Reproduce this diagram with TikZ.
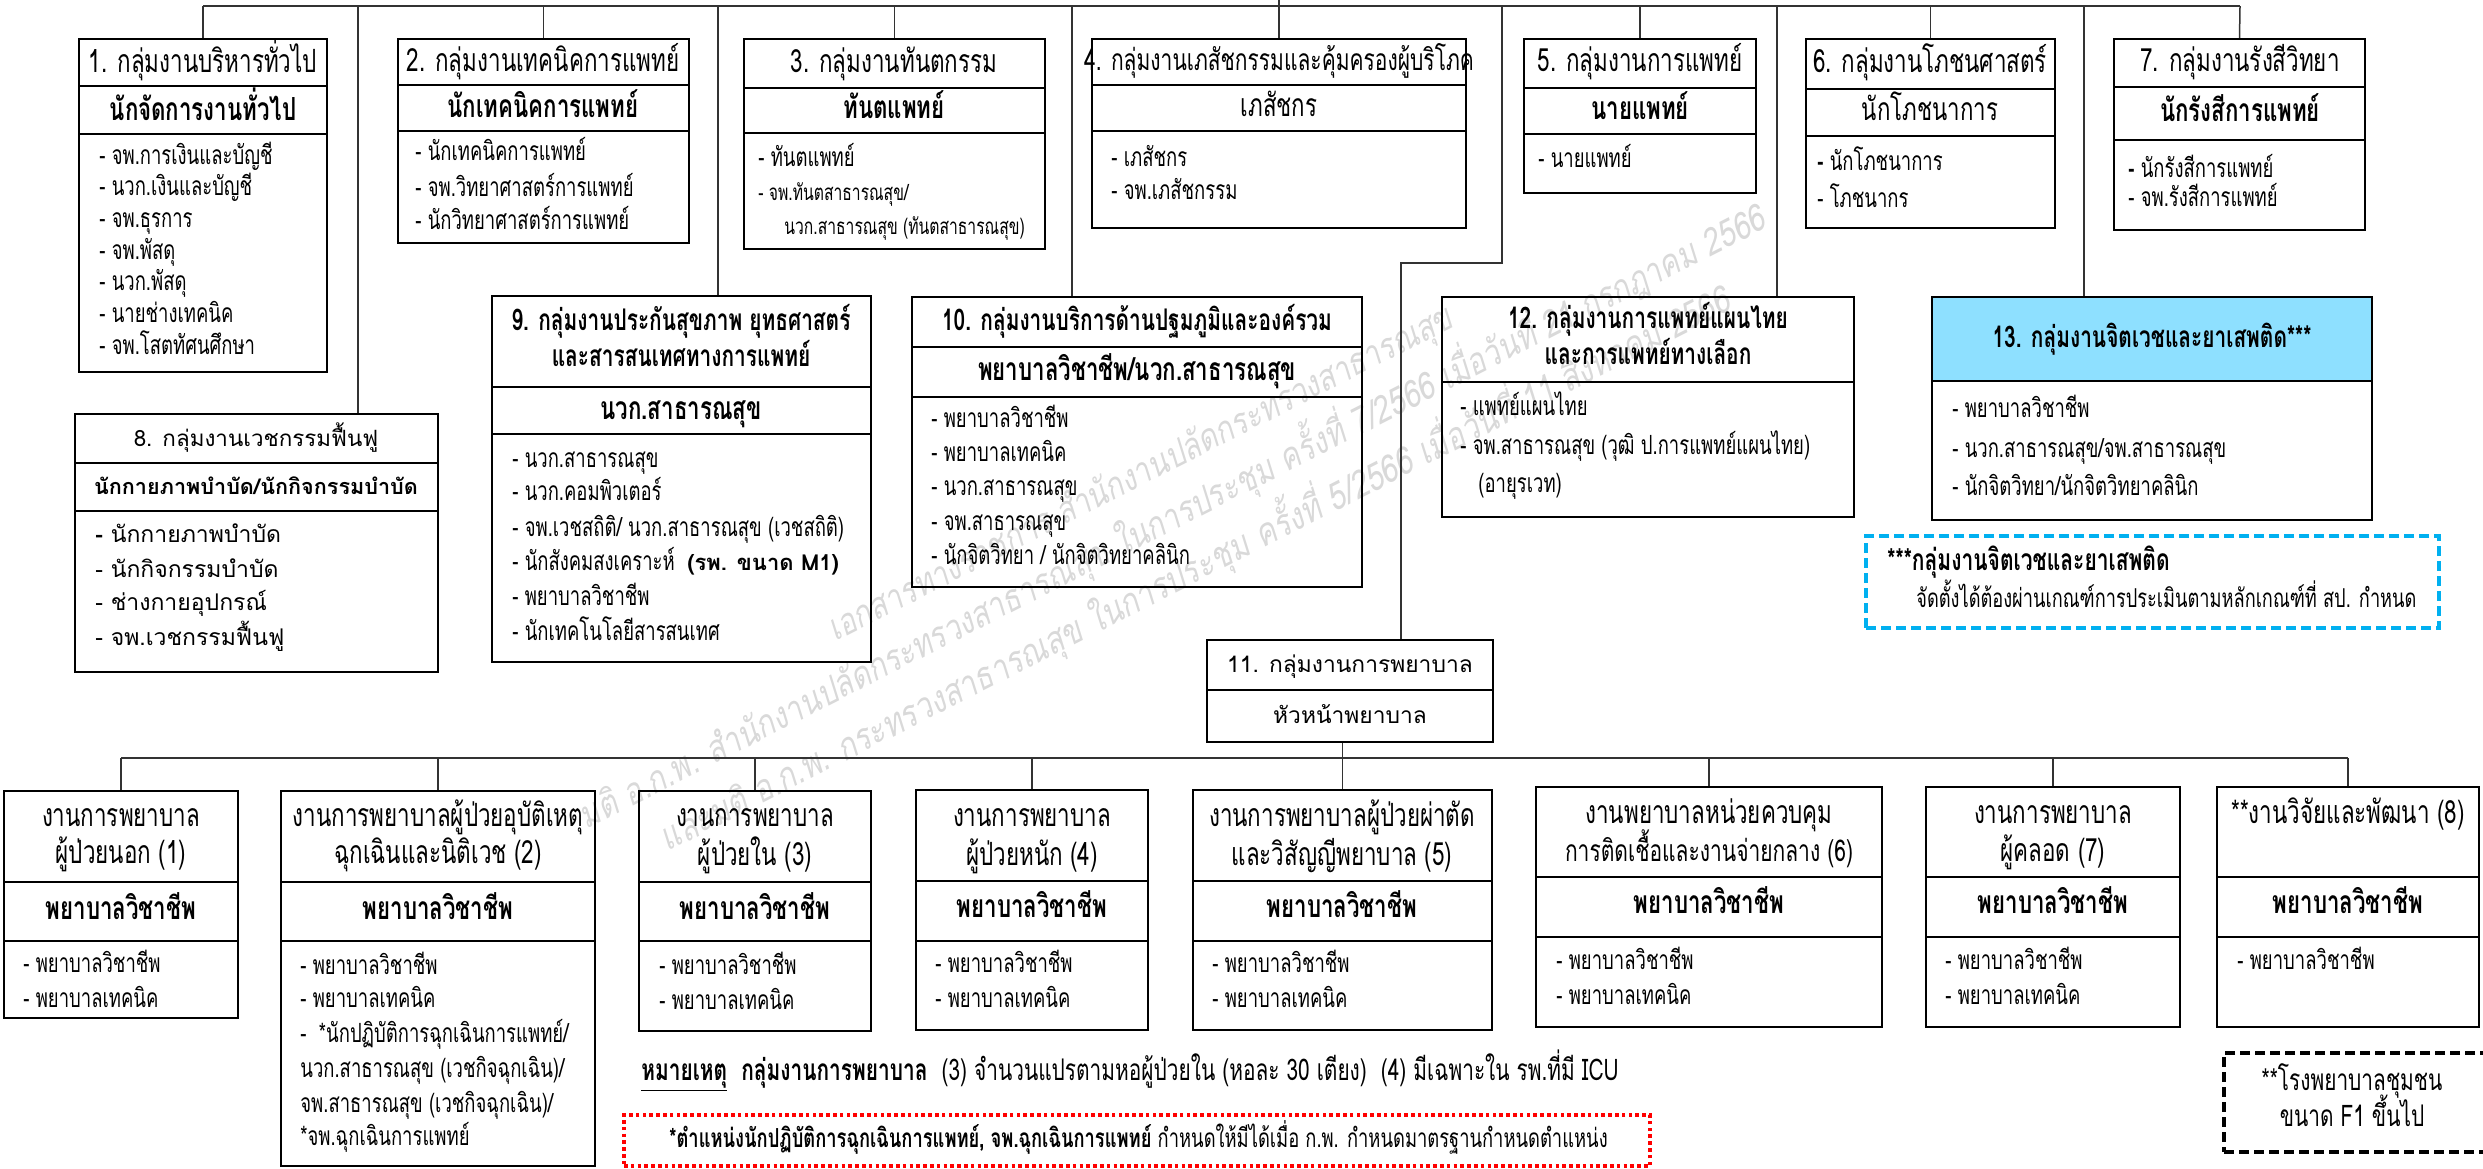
\documentclass[tikz,border=0pt]{standalone}
\usepackage{fontspec}
\usepackage{graphicx}
\usetikzlibrary{fit}
\newfontfamily\tc[Script=Thai,FakeStretch=0.7]{Loma}
\newfontfamily\tn[Script=Thai]{Loma}
\newfontfamily\twm[Script=Thai,FakeStretch=0.8]{Loma}
\definecolor{cyanhd}{RGB}{142,224,255}
\definecolor{dashblue}{RGB}{0,176,240}
\definecolor{dotred}{RGB}{255,0,0}
\tikzset{
 every node/.style={inner sep=0pt},
 boxst/.style={draw=black, line width=1.2pt, inner sep=0pt},
 conn/.style={draw=black!80, line width=0.75pt},
 itm/.style={anchor=base west, yshift=-3.8pt, font=\tc\fontsize{13.2}{15}\selectfont},
 itms/.style={anchor=base west, yshift=-3.5pt, font=\tc\fontsize{11.2}{13}\selectfont},
 ttl/.style={anchor=base, yshift=-4.1pt, font=\tc\fontsize{16}{18}\selectfont},
 ttlb/.style={anchor=base, yshift=-4.1pt, font=\tc\bfseries\fontsize{14.9}{17}\selectfont},
 sub/.style={anchor=base, yshift=-4.1pt, font=\tc\bfseries\fontsize{15.9}{18}\selectfont},
 subr/.style={anchor=base, yshift=-4.1pt, font=\tc\fontsize{15.9}{18}\selectfont},
 ttlL/.style={anchor=base, yshift=-3.8pt, font=\tn\fontsize{11.2}{13}\selectfont},
 subL/.style={anchor=base, yshift=-3.8pt, font=\tn\bfseries\fontsize{10.8}{13}\selectfont},
 itmL/.style={anchor=base west, yshift=-3.9pt, font=\tn\fontsize{11.5}{13}\selectfont},
 note/.style={anchor=base west, yshift=-3.6pt, font=\tc\fontsize{13.1}{15}\selectfont},
 wm/.style={rotate=27, text=black!15, font=\twm\itshape},
}
\newcommand\tbox[7]{%
 \node[boxst, fit={(#2,#3) (#4,#5)}] (#1) {};
 \draw[boxst] (#2,#6) -- (#4,#6);
 \draw[boxst] (#2,#7) -- (#4,#7);}
\newcommand\tboxb[6]{%
 \node[boxst, fit={(#2,#3) (#4,#5)}] (#1) {};
 \draw[boxst] (#2,#6) -- (#4,#6);}
\begin{document}
\begin{tikzpicture}[x=0.5pt,y=-0.5pt]
\useasboundingbox (0,0) rectangle (2483,1168);
% ---------- watermark (under everything) ----------
\node[wm] (wm1) at (1141,475) {\resizebox{348pt}{!}{เอกสารทางราชการ สำนักงานปลัดกระทรวงสาธารณสุข}};
\node[wm] (wm2) at (1171,515) {\resizebox{663pt}{!}{มติ อ.ก.พ. สำนักงานปลัดกระทรวงสาธารณสุข ในการประชุม ครั้งที่ 7/2566 เมื่อวันที่ 21 กรกฎาคม 2566}};
\node[wm] (wm3) at (1194,567) {\resizebox{598pt}{!}{และมติ อ.ก.พ. กระทรวงสาธารณสุข ในการประชุม ครั้งที่ 5/2566 เมื่อวันที่ 11 สิงหาคม 2566}};
% ---------- top row boxes ----------
\tbox{b1}{79}{39}{327}{372}{86}{134}
\tbox{b2}{398}{39}{689}{243}{85}{131}
\tbox{b3}{744}{39}{1045}{249}{88}{133}
\tbox{b4}{1092}{39}{1466}{228}{85}{131}
\tbox{b5}{1524}{39}{1756}{193}{88}{134}
\tbox{b6}{1806}{39}{2055}{228}{89}{136}
\tbox{b7}{2114}{39}{2365}{230}{87}{140}
% ---------- middle boxes ----------
\tbox{b8}{75}{414}{438}{672}{463}{511}
\tbox{b9}{492}{296}{871}{662}{387}{434}
\tbox{b10}{912}{297}{1362}{587}{347}{397}
\tboxb{b12}{1442}{297}{1854}{517}{382}
\fill[cyanhd] (1932,297) rectangle (2372,381);
\tboxb{b13}{1932}{297}{2372}{520}{381}
\tboxb{b11}{1207}{640}{1493}{742}{690}
% ---------- bottom boxes ----------
\tbox{bb1}{4}{791}{238}{1018}{882}{941}
\tbox{bb2}{281}{791}{595}{1166}{882}{941}
\tbox{bb3}{639}{791}{871}{1031}{882}{941}
\tbox{bb4}{916}{790}{1148}{1030}{881}{941}
\tbox{bb5}{1193}{790}{1492}{1030}{881}{941}
\tbox{bb6}{1536}{787}{1882}{1027}{877}{937}
\tbox{bb7}{1926}{787}{2180}{1027}{877}{937}
\tbox{bb8}{2217}{787}{2479}{1027}{877}{937}
% ---------- connectors ----------
\coordinate (tl) at (203,6);
\coordinate (tr) at (2240,6);
\draw[conn] (tl) -- (tr);
\coordinate (top4) at (1279,0);
\draw[conn] (tl) -- (b1.north);
\draw[conn] (b2.north |- tl) -- (b2.north);
\draw[conn] (b3.north |- tl) -- (b3.north);
\draw[conn] (top4) -- (b4.north);
\draw[conn] (b5.north |- tl) -- (b5.north);
\draw[conn] (b6.north |- tl) -- (b6.north);
\draw[conn] (tr) -- (b7.north);
\coordinate (c8) at (358,6);
\coordinate (c9) at (718,6);
\coordinate (c10) at (1072,6);
\coordinate (c12) at (1777,6);
\coordinate (c13) at (2084,6);
\draw[conn] (c8) -- (c8 |- b8.north);
\draw[conn] (c9) -- (c9 |- b9.north);
\draw[conn] (c10) -- (c10 |- b10.north);
\draw[conn] (c12) -- (c12 |- b12.north);
\draw[conn] (c13) -- (c13 |- b13.north);
\coordinate (j1) at (1502,6);
\coordinate (j2) at (1502,263);
\coordinate (j3) at (1401,263);
\draw[conn] (j1) -- (j2) -- (j3) -- (j3 |- b11.north);
\coordinate (bus) at (0,758);
\draw[conn] (bb1.north |- bus) -- (bb8.north |- bus);
\draw[conn] (b11.south -| bb5.north) -- (bb5.north |- bus);
\foreach \b in {bb1,bb2,bb3,bb4,bb5,bb6,bb7,bb8}{\draw[conn] (\b.north |- bus) -- (\b.north);}
% ---------- box 1 ----------
\node[ttl] (b1t) at (203,64) {1. กลุ่มงานบริหารทั่วไป};
\node[sub] (b1s) at (203,112) {นักจัดการงานทั่วไป};
\node[itm] (b1a) at (99,157) {- จพ.การเงินและบัญชี};
\node[itm] (b1b) at (99,188) {- นวก.เงินและบัญชี};
\node[itm] (b1c) at (99,220) {- จพ.ธุรการ};
\node[itm] (b1d) at (99,252) {- จพ.พัสดุ};
\node[itm] (b1e) at (99,283) {- นวก.พัสดุ};
\node[itm] (b1f) at (99,315) {- นายช่างเทคนิค};
\node[itm] (b1g) at (99,347) {- จพ.โสตทัศนศึกษา};
% ---------- box 2 ----------
\node[ttl] (b2t) at (543,63) {2. กลุ่มงานเทคนิคการแพทย์};
\node[sub] (b2s) at (543,109) {นักเทคนิคการแพทย์};
\node[itm] (b2a) at (415,153) {- นักเทคนิคการแพทย์};
\node[itm] (b2b) at (415,189) {- จพ.วิทยาศาสตร์การแพทย์};
\node[itm] (b2c) at (415,222) {- นักวิทยาศาสตร์การแพทย์};
% ---------- box 3 ----------
\node[ttl] (b3t) at (894,64) {3. กลุ่มงานทันตกรรม};
\node[sub] (b3s) at (894,110) {ทันตแพทย์};
\node[itm] (b3a) at (758,159) {- ทันตแพทย์};
\node[itms] (b3b) at (758,193) {- จพ.ทันตสาธารณสุข/};
\node[itms] (b3c) at (784,227) {นวก.สาธารณสุข (ทันตสาธารณสุข)};
% ---------- box 4 ----------
\node[ttl, font=\tc\fontsize{15}{17}\selectfont] (b4t) at (1279,62) {4. กลุ่มงานเภสัชกรรมและคุ้มครองผู้บริโภค};
\node[subr] (b4s) at (1279,108) {เภสัชกร};
\node[itm] (b4a) at (1111,159) {- เภสัชกร};
\node[itm] (b4b) at (1111,192) {- จพ.เภสัชกรรม};
% ---------- box 5 ----------
\node[ttl] (b5t) at (1640,63) {5. กลุ่มงานการแพทย์};
\node[sub] (b5s) at (1640,111) {นายแพทย์};
\node[itm] (b5a) at (1538,160) {- นายแพทย์};
% ---------- box 6 ----------
\node[ttl] (b6t) at (1930,64) {6. กลุ่มงานโภชนศาสตร์};
\node[subr] (b6s) at (1930,112) {นักโภชนาการ};
\node[itm] (b6a) at (1817,163) {\textbf{-} นักโภชนาการ};
\node[itm] (b6b) at (1817,200) {- โภชนากร};
% ---------- box 7 ----------
\node[ttl] (b7t) at (2240,63) {7. กลุ่มงานรังสีวิทยา};
\node[sub] (b7s) at (2240,113) {นักรังสีการแพทย์};
\node[itm] (b7a) at (2128,170) {\textbf{-} นักรังสีการแพทย์};
\node[itm] (b7b) at (2128,199) {- จพ.รังสีการแพทย์};
% ---------- box 8 ----------
\node[ttlL] (b8t) at (256,439) {8. กลุ่มงานเวชกรรมฟื้นฟู};
\node[subL] (b8s) at (256,487) {นักกายภาพบำบัด/นักกิจกรรมบำบัด};
\node[itmL] (b8a) at (95,535) {\textbf{-} นักกายภาพบำบัด};
\node[itmL] (b8b) at (95,570) {- นักกิจกรรมบำบัด};
\node[itmL] (b8c) at (95,603) {- ช่างกายอุปกรณ์};
\node[itmL] (b8d) at (95,638) {- จพ.เวชกรรมฟื้นฟู};
% ---------- box 9 ----------
\node[ttlb] (b9t) at (681,322) {9. กลุ่มงานประกันสุขภาพ ยุทธศาสตร์};
\node[ttlb] (b9u) at (681,358) {และสารสนเทศทางการแพทย์};
\node[sub] (b9s) at (681,411) {นวก.สาธารณสุข};
\node[itm] (b9a) at (512,460) {- นวก.สาธารณสุข};
\node[itm] (b9b) at (512,493) {- นวก.คอมพิวเตอร์};
\node[itm] (b9c) at (512,529) {- จพ.เวชสถิติ/ นวก.สาธารณสุข (เวชสถิติ)};
\node[itm] (b9d) at (512,563) {- นักสังคมสงเคราะห์\ \ {\tn\bfseries\fontsize{11}{13}\selectfont (รพ. ขนาด M1)}};
\node[itm] (b9e) at (512,598) {- พยาบาลวิชาชีพ};
\node[itm] (b9f) at (512,633) {- นักเทคโนโลยีสารสนเทศ};
% ---------- box 10 ----------
\node[ttlb] (b10t) at (1137,322) {10. กลุ่มงานบริการด้านปฐมภูมิและองค์รวม};
\node[sub] (b10s) at (1137,372) {พยาบาลวิชาชีพ/นวก.สาธารณสุข};
\node[itm] (b10a) at (931,420) {- พยาบาลวิชาชีพ};
\node[itm] (b10b) at (931,454) {- พยาบาลเทคนิค};
\node[itm] (b10c) at (931,488) {- นวก.สาธารณสุข};
\node[itm] (b10d) at (931,523) {- จพ.สาธารณสุข};
\node[itm] (b10e) at (931,557) {- นักจิตวิทยา / นักจิตวิทยาคลินิก};
% ---------- box 11 ----------
\node[ttlL, font=\tn\fontsize{11.4}{13}\selectfont] (b11t) at (1350,665) {11. กลุ่มงานการพยาบาล};
\node[ttlL, font=\tn\fontsize{11.4}{13}\selectfont] (b11s) at (1350,716) {หัวหน้าพยาบาล};
% ---------- box 12 ----------
\node[ttlb] (b12t) at (1648,320) {12. กลุ่มงานการแพทย์แผนไทย};
\node[ttlb] (b12u) at (1648,356) {และการแพทย์ทางเลือก};
\node[itm] (b12a) at (1460,408) {- แพทย์แผนไทย};
\node[itm] (b12b) at (1460,447) {- จพ.สาธารณสุข (วุฒิ ป.การแพทย์แผนไทย)};
\node[itm] (b12c) at (1478,485) {(อายุรเวท)};
% ---------- box 13 ----------
\node[ttlb] (b13t) at (2152,339) {13. กลุ่มงานจิตเวชและยาเสพติด***};
\node[itm] (b13a) at (1952,410) {- พยาบาลวิชาชีพ};
\node[itm] (b13b) at (1952,450) {- นวก.สาธารณสุข/จพ.สาธารณสุข};
\node[itm] (b13c) at (1952,488) {- นักจิตวิทยา/นักจิตวิทยาคลินิก};
% ---------- blue note ----------
\node[fit={(1866,536) (2439,628)}, draw=dashblue, line width=1.6pt, dash pattern=on 5pt off 2.5pt] (nb) {};
\node[note, font=\tc\bfseries\fontsize{15}{17}\selectfont] (nb1) at (1887,563) {***กลุ่มงานจิตเวชและยาเสพติด};
\node[note, font=\tc\fontsize{13}{15}\selectfont] (nb2) at (1916,600) {จัดตั้งได้ต้องผ่านเกณฑ์การประเมินตามหลักเกณฑ์ที่ สป. กำหนด};
% ---------- bottom boxes text ----------
\node[ttl] (bb1t) at (121,818) {งานการพยาบาล};
\node[ttl] (bb1u) at (121,855) {ผู้ป่วยนอก (1)};
\node[sub] (bb1s) at (121,911) {พยาบาลวิชาชีพ};
\node[itm] (bb1a) at (23,965) {- พยาบาลวิชาชีพ};
\node[itm] (bb1b) at (23,1000) {- พยาบาลเทคนิค};
\node[ttl] (bb2t) at (438,818) {งานการพยาบาลผู้ป่วยอุบัติเหตุ};
\node[ttl] (bb2u) at (438,855) {ฉุกเฉินและนิติเวช (2)};
\node[sub] (bb2s) at (438,911) {พยาบาลวิชาชีพ};
\node[itm] (bb2a) at (300,967) {- พยาบาลวิชาชีพ};
\node[itm] (bb2b) at (300,1000) {- พยาบาลเทคนิค};
\node[itm] (bb2c) at (300,1035) {-\ \ *นักปฏิบัติการฉุกเฉินการแพทย์/};
\node[itm] (bb2d) at (300,1070) {นวก.สาธารณสุข (เวชกิจฉุกเฉิน)/};
\node[itm] (bb2e) at (300,1105) {จพ.สาธารณสุข (เวชกิจฉุกเฉิน)/};
\node[itm] (bb2f) at (300,1138) {*จพ.ฉุกเฉินการแพทย์};
\node[ttl] (bb3t) at (755,818) {งานการพยาบาล};
\node[ttl] (bb3u) at (755,857) {ผู้ป่วยใน (3)};
\node[sub] (bb3s) at (755,911) {พยาบาลวิชาชีพ};
\node[itm] (bb3a) at (659,967) {- พยาบาลวิชาชีพ};
\node[itm] (bb3b) at (659,1002) {- พยาบาลเทคนิค};
\node[ttl] (bb4t) at (1032,818) {งานการพยาบาล};
\node[ttl] (bb4u) at (1032,857) {ผู้ป่วยหนัก (4)};
\node[sub] (bb4s) at (1032,909) {พยาบาลวิชาชีพ};
\node[itm] (bb4a) at (935,965) {- พยาบาลวิชาชีพ};
\node[itm] (bb4b) at (935,1000) {- พยาบาลเทคนิค};
\node[ttl] (bb5t) at (1342,818) {งานการพยาบาลผู้ป่วยผ่าตัด};
\node[ttl] (bb5u) at (1342,857) {และวิสัญญีพยาบาล (5)};
\node[sub] (bb5s) at (1342,909) {พยาบาลวิชาชีพ};
\node[itm] (bb5a) at (1212,965) {- พยาบาลวิชาชีพ};
\node[itm] (bb5b) at (1212,1000) {- พยาบาลเทคนิค};
\node[ttl] (bb6t) at (1709,815) {งานพยาบาลหน่วยควบคุม};
\node[ttl, font=\tc\fontsize{15}{17}\selectfont] (bb6u) at (1709,853) {การติดเชื้อและงานจ่ายกลาง (6)};
\node[sub] (bb6s) at (1709,905) {พยาบาลวิชาชีพ};
\node[itm] (bb6a) at (1556,962) {- พยาบาลวิชาชีพ};
\node[itm] (bb6b) at (1556,997) {- พยาบาลเทคนิค};
\node[ttl] (bb7t) at (2053,815) {งานการพยาบาล};
\node[ttl] (bb7u) at (2053,853) {ผู้คลอด (7)};
\node[sub] (bb7s) at (2053,905) {พยาบาลวิชาชีพ};
\node[itm] (bb7a) at (1945,962) {- พยาบาลวิชาชีพ};
\node[itm] (bb7b) at (1945,997) {- พยาบาลเทคนิค};
\node[ttl] (bb8t) at (2348,815) {**งานวิจัยและพัฒนา (8)};
\node[sub] (bb8s) at (2348,905) {พยาบาลวิชาชีพ};
\node[itm] (bb8a) at (2237,962) {- พยาบาลวิชาชีพ};
% ---------- notes ----------
\node[note, font=\tc\fontsize{14.9}{17}\selectfont] (nt) at (641,1073) {\textbf{\underline{หมายเหตุ}}\ \ \textbf{กลุ่มงานการพยาบาล}\ \ (3) จำนวนแปรตามหอผู้ป่วยใน (หอละ 30 เตียง)\ \ (4) มีเฉพาะใน รพ.ที่มี ICU};
\node[fit={(624,1115) (1650,1166)}, draw=dotred, line width=1.8pt, dash pattern=on 1.8pt off 1.6pt] (nr) {};
\node[note] (nrt) at (669,1140) {\textbf{*ตำแหน่งนักปฏิบัติการฉุกเฉินการแพทย์, จพ.ฉุกเฉินการแพทย์} กำหนดให้มีได้เมื่อ ก.พ. กำหนดมาตรฐานกำหนดตำแหน่ง};
\node[fit={(2224,1053) (2495,1152)}, draw=black, line width=1.6pt, dash pattern=on 5pt off 2.5pt] (nf) {};
\node[ttl, font=\tc\fontsize{14.9}{17}\selectfont] (nf1) at (2352,1082) {**โรงพยาบาลชุมชน};
\node[ttl, font=\tc\fontsize{14.9}{17}\selectfont] (nf2) at (2352,1118) {ขนาด F1 ขึ้นไป};
\end{tikzpicture}
\end{document}
